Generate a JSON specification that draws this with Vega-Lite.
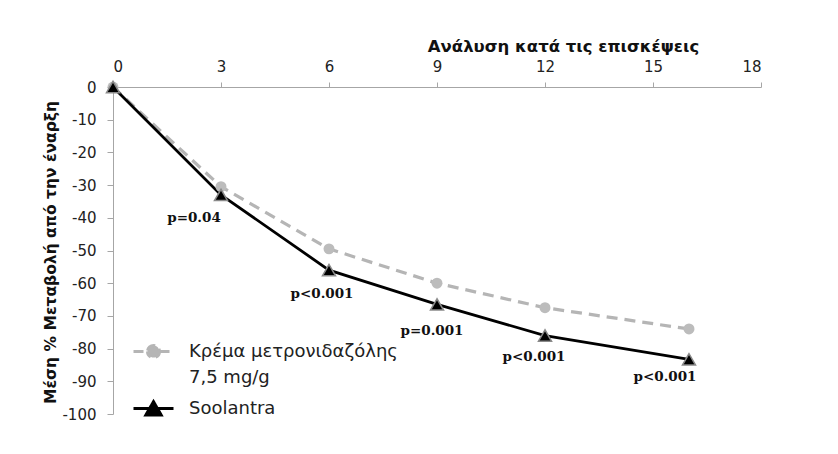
{
  "$schema": "https://vega.github.io/schema/vega-lite/v6.json",
  "autosize": "none",
  "width": 648,
  "height": 327,
  "padding": {"left": 113, "top": 87, "right": 77, "bottom": 40},
  "background": "white",
  "config": {
    "view": {"stroke": null},
    "font": "DejaVu Sans",
    "style": {"guide-label": {"lineHeight": 26}},
    "axis": {
      "domainColor": "#a6a6a6",
      "tickColor": "#a6a6a6",
      "grid": false,
      "labelFont": "DejaVu Sans",
      "labelFontSize": 15,
      "labelColor": "#222222",
      "titleFont": "DejaVu Sans",
      "titleFontWeight": "bold",
      "titleColor": "#111111"
    }
  },
  "datasets": {
    "main": [
      {"visit": 0, "value": 0, "series": "Κρέμα μετρονιδαζόλης 7,5 mg/g"},
      {"visit": 3, "value": -30.5, "series": "Κρέμα μετρονιδαζόλης 7,5 mg/g"},
      {"visit": 6, "value": -49.5, "series": "Κρέμα μετρονιδαζόλης 7,5 mg/g"},
      {"visit": 9, "value": -60, "series": "Κρέμα μετρονιδαζόλης 7,5 mg/g"},
      {"visit": 12, "value": -67.5, "series": "Κρέμα μετρονιδαζόλης 7,5 mg/g"},
      {"visit": 16, "value": -74, "series": "Κρέμα μετρονιδαζόλης 7,5 mg/g"},
      {"visit": 0, "value": 0, "series": "Soolantra", "p": ""},
      {"visit": 3, "value": -33, "series": "Soolantra", "p": "p=0.04"},
      {"visit": 6, "value": -56, "series": "Soolantra", "p": "p<0.001"},
      {"visit": 9, "value": -66.5, "series": "Soolantra", "p": "p=0.001"},
      {"visit": 12, "value": -76, "series": "Soolantra", "p": "p<0.001"},
      {"visit": 16, "value": -83.3, "series": "Soolantra", "p": "p<0.001"}
    ]
  },
  "data": {"name": "main"},
  "encoding": {
    "x": {
      "field": "visit", "type": "quantitative",
      "scale": {"domain": [0, 18], "nice": false, "zero": false},
      "axis": {
        "orient": "top", "values": [0, 3, 6, 9, 12, 15, 18],
        "title": "Ανάλυση κατά τις επισκέψεις",
        "titleFontSize": 16.5, "titleX": 450, "titleY": -36,
        "titleAlign": "center", "titleBaseline": "alphabetic",
        "tickSize": 5, "labelPadding": 8
      }
    },
    "y": {
      "field": "value", "type": "quantitative",
      "scale": {"domain": [-100, 0], "nice": false},
      "axis": {
        "values": [0, -10, -20, -30, -40, -50, -60, -70, -80, -90, -100],
        "labelExpr": "'' + datum.value",
        "title": "Μέση % Μεταβολή από την έναρξη",
        "titleFontSize": 15.5, "titleX": -58, "titleY": 165,
        "titleAngle": -90, "titleAlign": "center", "titleBaseline": "alphabetic",
        "tickSize": 6, "labelPadding": 11
      }
    }
  },
  "layer": [
    {
      "transform": [{"filter": "datum.series != 'Soolantra'"}],
      "mark": {"type": "line", "color": "#b5b5b5", "strokeWidth": 3.2, "strokeDash": [11, 7]}
    },
    {
      "transform": [{"filter": "datum.series == 'Soolantra'"}],
      "mark": {"type": "line", "color": "#000000", "strokeWidth": 2.8}
    },
    {
      "transform": [{"filter": "datum.series != 'Soolantra'"}],
      "mark": {"type": "point", "shape": "circle", "filled": true, "color": "#bcbcbc", "size": 120, "opacity": 1}
    },
    {
      "transform": [{"filter": "datum.series == 'Soolantra'"}],
      "mark": {"type": "point", "shape": "triangle-up", "filled": true, "fill": "#000000", "stroke": "#8a8a8a", "strokeWidth": 1.5, "size": 170, "opacity": 1}
    },
    {
      "transform": [{"filter": "datum.series == 'Soolantra' && datum.visit == 3"}],
      "mark": {"type": "text", "font": "DejaVu Serif", "fontWeight": "bold", "fontSize": 13.5, "color": "#111111", "dx": -27, "dy": 23},
      "encoding": {"text": {"field": "p"}}
    },
    {
      "transform": [{"filter": "datum.series == 'Soolantra' && datum.visit == 6"}],
      "mark": {"type": "text", "font": "DejaVu Serif", "fontWeight": "bold", "fontSize": 13.5, "color": "#111111", "dx": -7, "dy": 24},
      "encoding": {"text": {"field": "p"}}
    },
    {
      "transform": [{"filter": "datum.series == 'Soolantra' && datum.visit == 9"}],
      "mark": {"type": "text", "font": "DejaVu Serif", "fontWeight": "bold", "fontSize": 13.5, "color": "#111111", "dx": -5, "dy": 27},
      "encoding": {"text": {"field": "p"}}
    },
    {
      "transform": [{"filter": "datum.series == 'Soolantra' && datum.visit == 12"}],
      "mark": {"type": "text", "font": "DejaVu Serif", "fontWeight": "bold", "fontSize": 13.5, "color": "#111111", "dx": -11, "dy": 21},
      "encoding": {"text": {"field": "p"}}
    },
    {
      "transform": [{"filter": "datum.series == 'Soolantra' && datum.visit == 16"}],
      "mark": {"type": "text", "font": "DejaVu Serif", "fontWeight": "bold", "fontSize": 13.5, "color": "#111111", "dx": -24, "dy": 18},
      "encoding": {"text": {"field": "p"}}
    },
    {
      "transform": [{"filter": "datum.visit < -1"}],
      "mark": {"type": "point", "filled": true, "size": 1600, "strokeWidth": 3, "opacity": 1},
      "encoding": {
        "fill": {
          "field": "series", "type": "nominal",
          "scale": {"domain": ["Κρέμα μετρονιδαζόλης 7,5 mg/g", "Soolantra"], "range": ["#b5b5b5", "#000000"]},
          "legend": {
            "title": null,
            "orient": "none",
            "legendX": 19,
            "legendY": 243,
            "symbolSize": 1600,
            "symbolStrokeWidth": 3,
            "labelFont": "DejaVu Sans",
            "labelFontSize": 18,
            "labelColor": "#222222",
            "labelOffset": 14,
            "labelLimit": 400,
            "rowPadding": 0,
            "labelBaseline": "middle",
            "labelExpr": "datum.label == 'Κρέμα μετρονιδαζόλης 7,5 mg/g' ? ['Κρέμα μετρονιδαζόλης', '7,5 mg/g'] : datum.label"
          }
        },
        "stroke": {
          "field": "series", "type": "nominal",
          "scale": {"domain": ["Κρέμα μετρονιδαζόλης 7,5 mg/g", "Soolantra"], "range": ["#b5b5b5", "#000000"]}
        },
        "shape": {
          "field": "series", "type": "nominal",
          "scale": {"domain": ["Κρέμα μετρονιδαζόλης 7,5 mg/g", "Soolantra"], "range": ["M-1,0H-0.3A0.3,0.3,0,1,1,0.3,0A0.3,0.3,0,1,1,-0.3,0M0.3,0H1", "M-1,0H1M0,-0.34L0.38,0.32L-0.38,0.32Z"]}
        },
        "strokeDash": {
          "field": "series", "type": "nominal",
          "scale": {"domain": ["Κρέμα μετρονιδαζόλης 7,5 mg/g", "Soolantra"], "range": [[10, 5], [1, 0]]}
        }
      }
    }
  ]
}
